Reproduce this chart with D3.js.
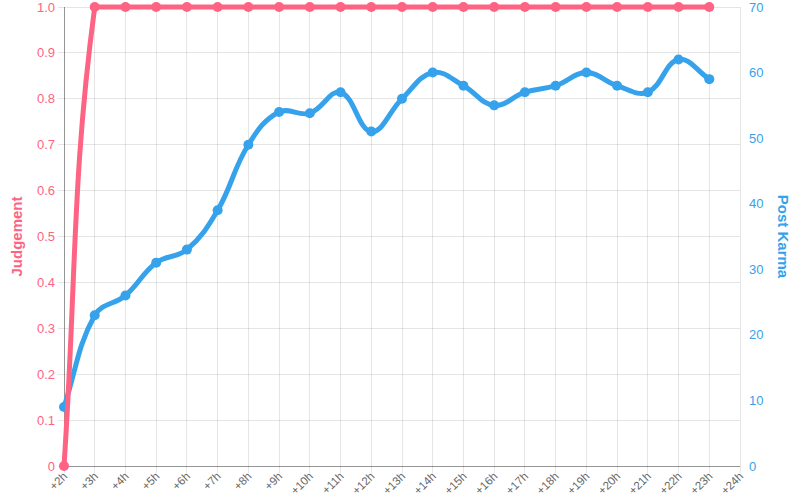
<!DOCTYPE html>
<html><head><meta charset="utf-8">
<script src="https://cdn.jsdelivr.net/npm/d3@7/dist/d3.min.js"></script>
<style>
html,body{margin:0;padding:0;background:#fff;}
svg{display:block;}
</style></head>
<body><svg id="chart" width="800" height="500"></svg>
<script>
const categories = ["+2h","+3h","+4h","+5h","+6h","+7h","+8h","+9h","+10h","+11h","+12h","+13h","+14h","+15h","+16h","+17h","+18h","+19h","+20h","+21h","+22h","+23h","+24h"];
const judgement = [0,1,1,1,1,1,1,1,1,1,1,1,1,1,1,1,1,1,1,1,1,1];
const postKarma = [9,23,26,31,33,39,49,54,53.8,57,51,56,60,58,55,57,58,60,58,57,62,59];
const leftTicks = [0,0.1,0.2,0.3,0.4,0.5,0.6,0.7,0.8,0.9,1.0];
const rightTicks = [0,10,20,30,40,50,60,70];

const RED = "rgb(255,99,132)", BLUE = "rgb(54,162,235)";
const area = {left:64, right:740, top:7, bottom:466};
const svg = d3.select("#chart");

const x = d3.scaleLinear().domain([0, categories.length-1]).range([area.left, area.right]);
const yL = d3.scaleLinear().domain([0,1]).range([area.bottom, area.top]);
const yR = d3.scaleLinear().domain([0,70]).range([area.bottom, area.top]);

// Chart.js-like spline curve (tension 0.4) with control points capped to chart area
function ChartjsCurve(context){ this._context = context; this._t = 0.4; }
ChartjsCurve.prototype = {
  areaStart(){}, areaEnd(){},
  lineStart(){ this._pts = []; },
  point(px,py){ this._pts.push({x:+px,y:+py}); },
  lineEnd(){
    const p = this._pts, n = p.length, t = this._t, c = this._context;
    if(!n) return;
    const cps = p.map((cur,i)=>{
      const prev = i>0 ? p[i-1] : cur, next = i<n-1 ? p[i+1] : cur;
      const d01 = Math.hypot(cur.x-prev.x, cur.y-prev.y), d12 = Math.hypot(next.x-cur.x, next.y-cur.y);
      let s01 = d01/(d01+d12), s12 = d12/(d01+d12);
      if(isNaN(s01)) s01 = 0; if(isNaN(s12)) s12 = 0;
      const fa = t*s01, fb = t*s12;
      const clampX = v=>Math.max(area.left, Math.min(area.right, v));
      const clampY = v=>Math.max(area.top, Math.min(area.bottom, v));
      return {
        px: clampX(cur.x - fa*(next.x-prev.x)), py: clampY(cur.y - fa*(next.y-prev.y)),
        nx: clampX(cur.x + fb*(next.x-prev.x)), ny: clampY(cur.y + fb*(next.y-prev.y))
      };
    });
    c.moveTo(p[0].x, p[0].y);
    for(let i=1;i<n;i++){
      c.bezierCurveTo(cps[i-1].nx, cps[i-1].ny, cps[i].px, cps[i].py, p[i].x, p[i].y);
    }
  }
};
const chartjsCurve = ctx => new ChartjsCurve(ctx);

// grid: vertical
const grid = svg.append("g");
categories.forEach((c,i)=>{
  grid.append("line").attr("x1", x(i)).attr("x2", x(i)).attr("y1", area.top).attr("y2", area.bottom+7)
    .attr("stroke","rgba(0,0,0,0.1)").attr("stroke-width",1).attr("shape-rendering","crispEdges");
});
leftTicks.forEach(v=>{
  grid.append("line").attr("x1", area.left-6).attr("x2", area.right).attr("y1", yL(v)).attr("y2", yL(v))
    .attr("stroke","rgba(0,0,0,0.1)").attr("stroke-width",1).attr("shape-rendering","crispEdges");
});
// axis lines
svg.append("line").attr("x1",area.left).attr("x2",area.left).attr("y1",area.top).attr("y2",area.bottom)
  .attr("stroke","rgba(0,0,0,0.35)").attr("shape-rendering","crispEdges");
svg.append("line").attr("x1",area.left).attr("x2",area.right).attr("y1",area.bottom).attr("y2",area.bottom)
  .attr("stroke","rgba(0,0,0,0.35)").attr("shape-rendering","crispEdges");

// left tick labels
const tickFont = "'Liberation Sans', Arial, sans-serif";
leftTicks.forEach(v=>{
  svg.append("text").attr("x", area.left-9).attr("y", yL(v)).attr("dy","0.35em")
    .attr("text-anchor","end").attr("font-family",tickFont).attr("font-size",13)
    .attr("fill",RED).text(v===0 ? "0" : (v===1 ? "1.0" : d3.format(".1f")(v)));
});
rightTicks.forEach(v=>{
  svg.append("text").attr("x", area.right+9).attr("y", yR(v)).attr("dy","0.35em")
    .attr("text-anchor","start").attr("font-family",tickFont).attr("font-size",13)
    .attr("fill",BLUE).text(String(v));
});
// x labels
categories.forEach((c,i)=>{
  svg.append("text").attr("transform",`translate(${x(i)+4},${area.bottom+11}) rotate(-45)`)
    .attr("text-anchor","end").attr("font-family",tickFont).attr("font-size",11.5)
    .attr("fill","#666").text(c);
});
// axis titles
svg.append("text").attr("transform",`translate(22,${(area.top+area.bottom)/2}) rotate(-90)`)
  .attr("text-anchor","middle").attr("font-family",tickFont).attr("font-weight","bold").attr("font-size",15)
  .attr("fill",RED).text("Judgement");
svg.append("text").attr("transform",`translate(778,${(area.top+area.bottom)/2}) rotate(90)`)
  .attr("text-anchor","middle").attr("font-family",tickFont).attr("font-weight","bold").attr("font-size",15)
  .attr("fill",BLUE).text("Post Karma");

// series: blue first (below), red on top
function drawSeries(data, yScale, color){
  const line = d3.line().x((d,i)=>x(i)).y(d=>yScale(d)).curve(chartjsCurve);
  const g = svg.append("g");
  g.append("path").attr("d", line(data)).attr("fill","none").attr("stroke",color)
    .attr("stroke-width",5).attr("stroke-linejoin","round").attr("stroke-linecap","round");
  g.selectAll("circle").data(data).join("circle")
    .attr("cx",(d,i)=>x(i)).attr("cy",d=>yScale(d)).attr("r",5).attr("fill",color);
}
drawSeries(postKarma, yR, BLUE);
drawSeries(judgement, yL, RED);
</script></body></html>
